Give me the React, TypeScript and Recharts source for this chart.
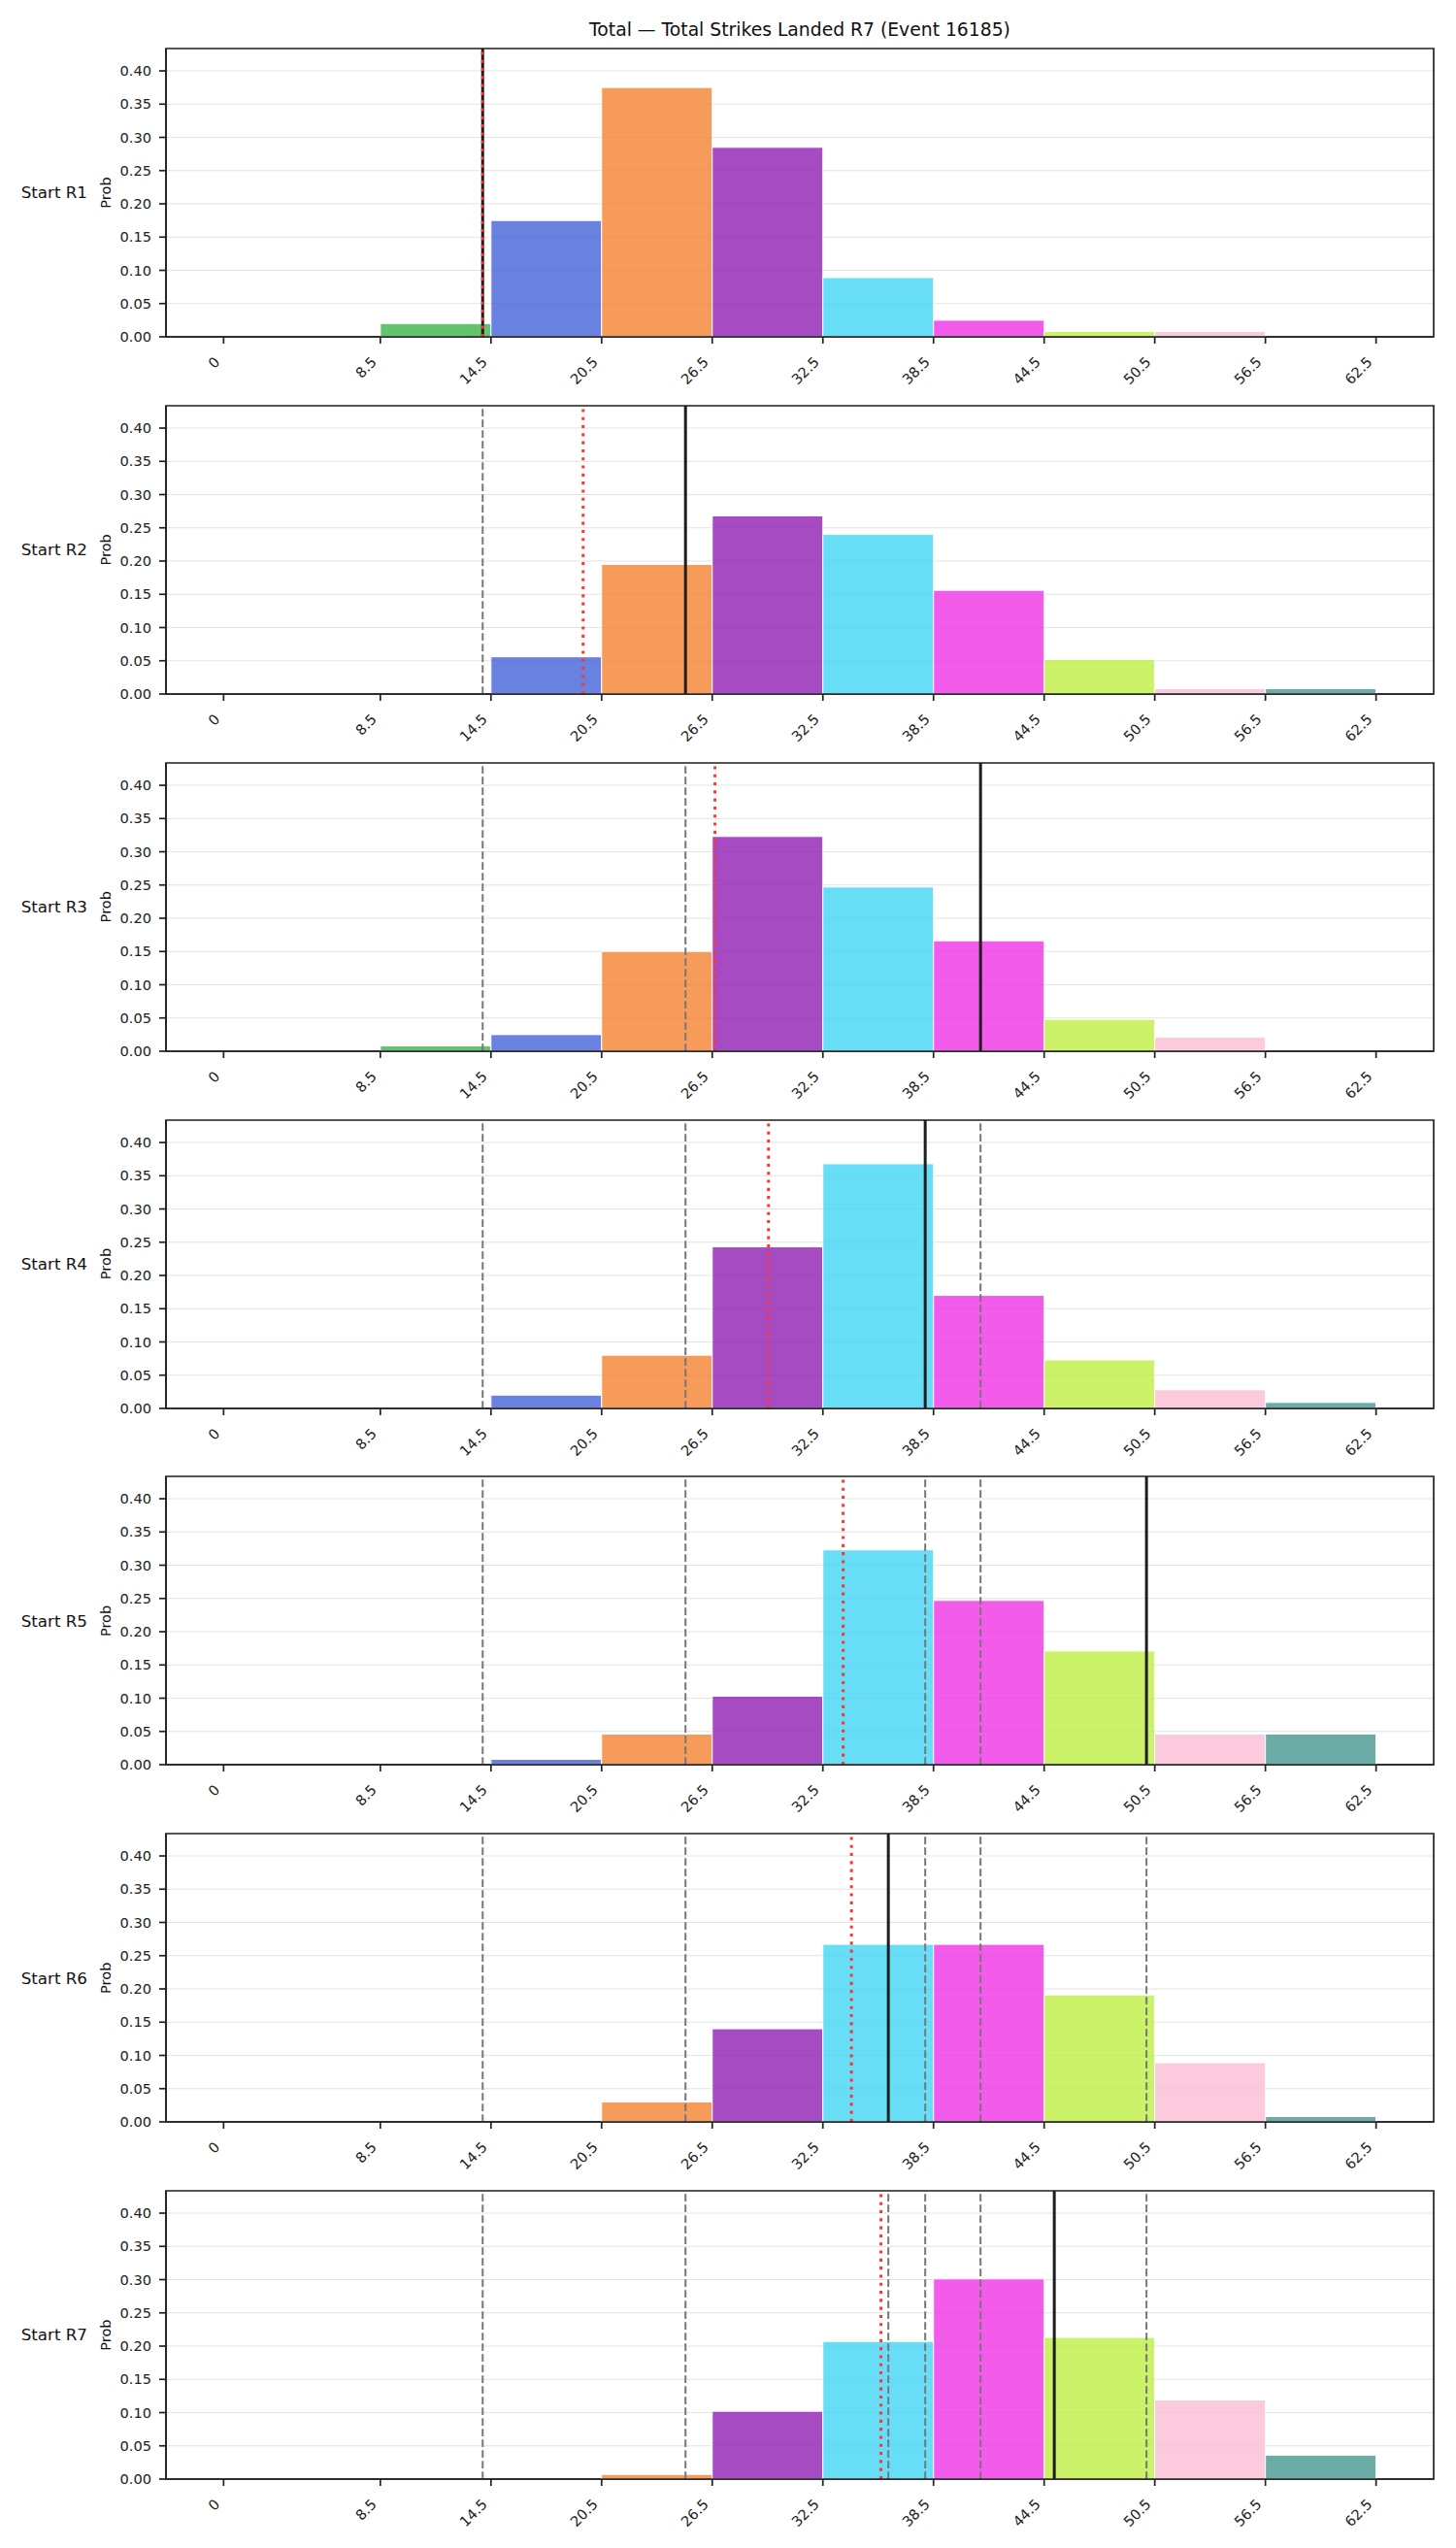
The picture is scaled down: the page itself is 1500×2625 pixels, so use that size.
import React from 'react';
import {
  ComposedChart,
  Bar,
  Cell,
  XAxis,
  YAxis,
  CartesianGrid,
  ReferenceLine,
  ReferenceArea,
} from 'recharts';

// ---- data -------------------------------------------------------------
const TITLE = 'Total — Total Strikes Landed R7 (Event 16185)';
const ROW_LABELS = ['Start R1', 'Start R2', 'Start R3', 'Start R4', 'Start R5', 'Start R6', 'Start R7'];

// histogram bin edges (strikes landed) and one colour per bin
const BIN_EDGES = [8.5, 14.5, 20.5, 26.5, 32.5, 38.5, 44.5, 50.5, 56.5, 62.5];
const BIN_COLORS = ['#3cb44b', '#4363d8', '#f58231', '#911eb4', '#42d4f4', '#f032e6', '#bfef45', '#fabed4', '#469990'];

const X_TICKS = [0, 8.5, 14.5, 20.5, 26.5, 32.5, 38.5, 44.5, 50.5, 56.5, 62.5];
const Y_TICKS = [0, 0.05, 0.1, 0.15, 0.2, 0.25, 0.3, 0.35, 0.4];

// probability per bin for each starting round
const PROB_R1 = [0.02, 0.175, 0.375, 0.285, 0.089, 0.025, 0.008, 0.008, 0];
const PROB_R2 = [0, 0.056, 0.195, 0.268, 0.24, 0.156, 0.052, 0.008, 0.008];
const PROB_R3 = [0.008, 0.025, 0.15, 0.323, 0.247, 0.166, 0.048, 0.021, 0];
const PROB_R4 = [0, 0.02, 0.08, 0.243, 0.368, 0.17, 0.073, 0.028, 0.009];
const PROB_R5 = [0, 0.008, 0.046, 0.103, 0.323, 0.247, 0.171, 0.046, 0.046];
const PROB_R6 = [0, 0, 0.03, 0.14, 0.267, 0.267, 0.191, 0.089, 0.008];
const PROB_R7 = [0, 0, 0.007, 0.102, 0.207, 0.301, 0.213, 0.119, 0.036];
const PROBS = [PROB_R1, PROB_R2, PROB_R3, PROB_R4, PROB_R5, PROB_R6, PROB_R7];

// betting line at each start (solid), earlier lines are shown dashed
const LINE_AT_START = [14.05, 25.05, 41.05, 38.05, 50.05, 36.05, 45.05];
// model expectation (red dotted)
const EXPECTED = [14.05, 19.5, 26.65, 29.55, 33.6, 34.05, 35.65];

// ---- layout -----------------------------------------------------------
const X_MIN = -3.125;
const X_MAX = 65.625;
const Y_MAX = 0.4336;
const FIG_W = 1500;
const FIG_H = 2625;
const PLOT_LEFT = 171;
const PLOT_RIGHT = 1477;
const PLOT_H = 297;
const PANEL_STEP = 367.85;
const FIRST_PLOT_TOP = 50;
const CHART_TOP_PAD = 20;
const XAXIS_H = 51;
const YAXIS_W = 60;
const FONT = 'DejaVu Sans, Verdana, sans-serif';
const INK = '#222222';

const PLOT_W = PLOT_RIGHT - PLOT_LEFT;
// full bin width in pixels (slightly under the band so bars stay full width)
const BAR_PX = (PLOT_W / (X_MAX - X_MIN)) * (BIN_EDGES[2] - BIN_EDGES[1]) - 0.02;

const XTick = (props: any) => {
  const { x, y, payload } = props;
  return (
    <g transform={`translate(${x - 3},${y + 20})`}>
      <text
        textAnchor="end"
        transform="rotate(-45)"
        fontSize={14.6}
        fontFamily={FONT}
        fill={INK}
      >
        {String(payload.value)}
      </text>
    </g>
  );
};

function Panel({ index }: { index: number }) {
  const probs = PROBS[index];
  const rows = probs
    .map((p, i) => ({
      mid: (BIN_EDGES[i] + BIN_EDGES[i + 1]) / 2,
      prob: p,
      color: BIN_COLORS[i],
    }))
    .filter((r) => r.prob > 0);
  const previous = LINE_AT_START.slice(0, index);

  return (
    <ComposedChart
      width={FIG_W}
      height={CHART_TOP_PAD + PLOT_H + XAXIS_H}
      data={rows}
      margin={{ top: CHART_TOP_PAD, right: FIG_W - PLOT_RIGHT, bottom: 0, left: PLOT_LEFT - YAXIS_W }}
      barGap={0}
      barCategoryGap={0}
    >
      <CartesianGrid horizontal vertical={false} stroke="#e3e3e3" strokeWidth={1.2} />
      <XAxis
        dataKey="mid"
        type="number"
        domain={[X_MIN, X_MAX]}
        ticks={X_TICKS}
        allowDataOverflow
        interval={0}
        height={XAXIS_H}
        tickSize={7}
        tickMargin={0}
        tick={<XTick />}
        tickLine={{ stroke: INK, strokeWidth: 1.7 }}
        axisLine={{ stroke: INK, strokeWidth: 1.7 }}
      />
      <YAxis
        type="number"
        domain={[0, Y_MAX]}
        ticks={Y_TICKS}
        allowDataOverflow
        interval={0}
        width={YAXIS_W}
        tickSize={7}
        tickMargin={8}
        tickFormatter={(v: number) => v.toFixed(2)}
        tick={{ fontSize: 14.6, fill: INK, fontFamily: FONT }}
        tickLine={{ stroke: INK, strokeWidth: 1.7 }}
        axisLine={{ stroke: INK, strokeWidth: 1.7 }}
      />
      <Bar
        dataKey="prob"
        barSize={BAR_PX}
        stroke="#ffffff"
        strokeWidth={1}
        fillOpacity={0.8}
        isAnimationActive={false}
      >
        {rows.map((r) => (
          <Cell key={r.mid} fill={r.color} />
        ))}
      </Bar>
      {previous.map((v, i) => (
        <ReferenceLine
          key={`prev-${i}`}
          x={v}
          stroke="#777777"
          strokeWidth={2}
          strokeDasharray="7.7 3.3"
        />
      ))}
      <ReferenceLine x={LINE_AT_START[index]} stroke="#1e1e1e" strokeWidth={3} />
      <ReferenceLine
        x={EXPECTED[index]}
        stroke="#ff3333"
        strokeWidth={3}
        strokeDasharray="3.1 5.2"
      />
      <ReferenceArea
        x1={X_MIN}
        x2={X_MAX}
        y1={0}
        y2={Y_MAX}
        fill="none"
        fillOpacity={0}
        stroke={INK}
        strokeWidth={1.7}
        strokeOpacity={1}
      />
    </ComposedChart>
  );
}

export default function App() {
  const plotTops = ROW_LABELS.map((_, i) => FIRST_PLOT_TOP + PANEL_STEP * i);
  return (
    <div
      style={{
        position: 'absolute',
        left: 0,
        top: 0,
        width: FIG_W,
        height: FIG_H,
        background: '#ffffff',
        overflow: 'hidden',
      }}
    >
      {plotTops.map((top, i) => (
        <div key={i} style={{ position: 'absolute', left: 0, top: top - CHART_TOP_PAD }}>
          <Panel index={i} />
        </div>
      ))}
      <svg
        width={FIG_W}
        height={FIG_H}
        style={{ position: 'absolute', left: 0, top: 0, pointerEvents: 'none' }}
      >
        <text x={(PLOT_LEFT + PLOT_RIGHT) / 2} y={36.5} textAnchor="middle" fontSize={18.75} fontFamily={FONT} fill="#111">
          {TITLE}
        </text>
        {plotTops.map((top, i) => {
          const cy = top + PLOT_H / 2;
          return (
            <g key={i}>
              <text x={90} y={cy} dy="0.35em" textAnchor="end" fontSize={16.7} fontFamily={FONT} fill="#111">
                {ROW_LABELS[i]}
              </text>
              <text
                x={0}
                y={0}
                transform={`translate(114,${cy}) rotate(-90)`}
                textAnchor="middle"
                fontSize={14.6}
                fontFamily={FONT}
                fill="#111"
              >
                Prob
              </text>
            </g>
          );
        })}
      </svg>
    </div>
  );
}
